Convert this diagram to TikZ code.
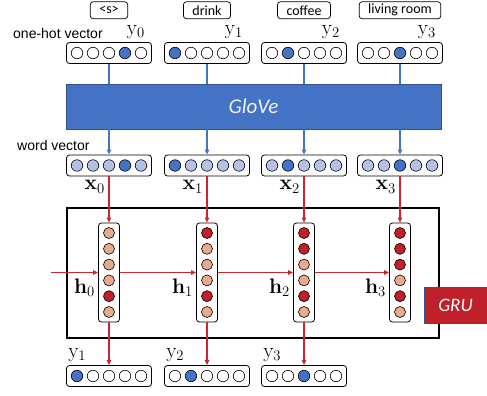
\RequirePackage{fix-cm}
\documentclass[tikz,border=0pt]{standalone}
\usepackage[no-math]{fontspec}
\setmainfont{Liberation Sans}
\newfontfamily\carlitofont{Carlito}
\usetikzlibrary{arrows.meta,positioning}
\definecolor{EmbBlue}{HTML}{4472C4}
\definecolor{EmbEdge}{HTML}{2F528F}
\definecolor{EmbPale}{HTML}{B4C2E7}
\definecolor{GruRed}{HTML}{C0202A}
\definecolor{GruLine}{HTML}{CC2431}
\definecolor{GruPale}{HTML}{E8A98D}
\tikzset{
  vecbox/.style={draw=black,line width=0.8pt,rounded corners=3pt,fill=white,
    minimum width=85pt,minimum height=21pt,inner sep=0pt},
  colbox/.style={vecbox,minimum width=21pt,minimum height=99pt},
  bead/.style={circle,draw=black,line width=0.6pt,minimum size=11.5pt,inner sep=0pt},
  wordtag/.style={draw=black,line width=0.7pt,rounded corners=3pt,minimum height=17pt,
    inner xsep=9pt,inner ysep=0pt,font=\carlitofont\fontsize{14}{16}\selectfont},
  captext/.style={anchor=base west,inner sep=0pt,font=\fontsize{14}{16}\selectfont},
  varlabel/.style={inner sep=0pt,font=\fontsize{21}{24}\selectfont},
  glovebox/.style={fill=EmbBlue,draw=EmbEdge,line width=0.6pt,minimum width=375pt,
    minimum height=45pt,text=white!92!EmbBlue,font=\carlitofont\itshape\fontsize{21}{24}\selectfont},
  grubox/.style={draw=black,line width=1.6pt,minimum width=372pt,minimum height=130pt},
  grutag/.style={fill=GruRed,draw=EmbEdge,line width=0.6pt,minimum width=63pt,
    minimum height=36pt,text=white,font=\carlitofont\itshape\fontsize{19}{22}\selectfont},
  embed/.style={draw=EmbBlue,line width=1.1pt},
  embedarrow/.style={embed,-{Triangle[length=5pt,width=4.5pt]}},
  recur/.style={draw=GruLine,line width=1.1pt,-{Triangle[length=5pt,width=4.5pt]}}
}
\begin{document}
\begin{tikzpicture}[x=1pt,y=-1pt]
  \useasboundingbox (0,0) rectangle (487,396);
  % frames
  \node[grubox] (gru) at (253,273) {};
  \node[glovebox] (glove) at (253.5,106.5) {GloVe};
  \node[captext] (ohcap) at (13,38.5) {one-hot vector};
  \node[captext] (wvcap) at (17,150) {word vector};
  % input side: one-hot, word vector, hidden state
  \foreach \n/\px/\hot/\word in {0/109/4/{<s>},1/207/1/drink,2/304/2/coffee,3/400/3/living room} {
    \node[vecbox] (oh\n) at (\px,53) {};
    \node[vecbox] (wv\n) at (\px,165.5) {};
    \node[colbox] (hc\n) at (\px,272.5) {};
    \node[wordtag,above=23pt of oh\n] (tag\n) {\word};
    \node[varlabel,anchor=south east] (yl\n) at ([xshift=-7pt,yshift=3pt]oh\n.north east) {$\mathrm{y}_\n$};
    \node[varlabel,anchor=north east] (xl\n) at ([xshift=-4pt,yshift=-4pt]wv\n.south) {$\mathbf{x}_\n$};
    \node[varlabel,anchor=north east] (hl\n) at ([xshift=-3pt,yshift=-6pt]hc\n.west) {$\mathbf{h}_\n$};
    \foreach \k in {1,...,5} {
      \ifnum\k=\hot \def\ohfill{EmbBlue}\def\wvfill{EmbBlue}\else\def\ohfill{white}\def\wvfill{EmbPale}\fi
      \node[bead,fill=\ohfill] at ([xshift=\k*16pt-48pt]oh\n.center) {};
      \node[bead,fill=\wvfill] at ([xshift=\k*16pt-48pt]wv\n.center) {};
    }
    \foreach \k in {1,...,6} {
      \ifnum\k>\n \ifnum\k=5 \def\hcfill{GruRed}\else\def\hcfill{GruPale}\fi\else\def\hcfill{GruRed}\fi
      \node[bead,minimum size=11pt,fill=\hcfill] at ([yshift=55.3pt-\k*15.8pt]hc\n.center) {};
    }
    \draw[embed] (oh\n.south) -- (oh\n.south |- glove.north);
    \draw[embedarrow] (oh\n.south |- glove.south) -- (wv\n.north);
    \draw[recur] (wv\n.south) -- (hc\n.north);
  }
  % recurrence
  \coordinate (h0in) at (51,272.5);
  \draw[recur] (h0in) -- (hc0.west);
  \foreach \a/\b in {0/1,1/2,2/3} \draw[recur] (hc\a.east) -- (hc\b.west);
  % outputs
  \foreach \n/\px in {1/109,2/207,3/304} {
    \node[vecbox] (out\n) at (\px,376) {};
    \node[varlabel,anchor=south west] (ol\n) at ([xshift=2pt,yshift=3pt]out\n.north west) {$\mathrm{y}_\n$};
    \foreach \k in {1,...,5} {
      \ifnum\k=\n \def\outfill{EmbBlue}\else\def\outfill{white}\fi
      \node[bead,fill=\outfill] at ([xshift=\k*16pt-48pt]out\n.center) {};
    }
    \pgfmathtruncatemacro\src{\n-1}
    \draw[recur] (hc\src.south) -- (out\n.north);
  }
  \node[grutag] (grutag) at (455.5,305) {GRU};
\end{tikzpicture}
\end{document}
